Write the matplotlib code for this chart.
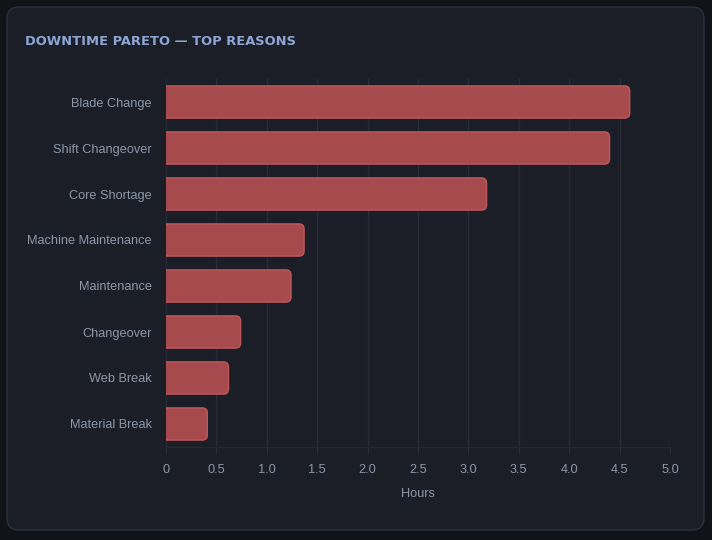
"""Downtime pareto chart, dark card style."""

import matplotlib

matplotlib.use("Agg")
import matplotlib.pyplot as plt
import numpy as np
from matplotlib.patches import FancyBboxPatch

reasons = ["Blade Change", "Shift Changeover", "Core Shortage", "Machine Maintenance",
           "Maintenance", "Changeover", "Web Break", "Material Break"]
hours = [4.6, 4.4, 3.18, 1.37, 1.24, 0.74, 0.62, 0.41]
xticks = [0, 0.5, 1.0, 1.5, 2.0, 2.5, 3.0, 3.5, 4.0, 4.5, 5.0]
xtick_labels = ["0", "0.5", "1.0", "1.5", "2.0", "2.5", "3.0", "3.5", "4.0", "4.5", "5.0"]

BG = "#111318"
CARD = "#1b1e27"
BORDER = "#2c3140"
GRID = "#282c38"
TEXT = "#8d96a8"
BAR = "#a64a4e"
BAR_EDGE = "#bf585c"
FONT = ["Liberation Sans", "DejaVu Sans"]

W, H = 712, 540
fig = plt.figure(figsize=(W / 100, H / 100), dpi=100, facecolor=BG)

# card background
card = FancyBboxPatch((7 / W, 10 / H), 697 / W, 523 / H,
                      boxstyle="round,pad=0,rounding_size=0.017",
                      mutation_aspect=W / H, transform=fig.transFigure,
                      facecolor=CARD, edgecolor=BORDER, linewidth=1.0, zorder=-5)
fig.patches.append(card)

fig.text(25 / W, 1 - 42 / H, "DOWNTIME PARETO — TOP REASONS", color="#8ea6d6",
         fontsize=9.4, fontweight="bold", va="center", ha="left")

ax = fig.add_axes([166 / W, 93 / H, 504 / W, 368 / H])
ax.set_facecolor("none")
ax.set_zorder(2)

y = np.arange(len(reasons))
ax.set_xlim(0, 5.0)
ax.set_ylim(len(reasons) - 0.5, -0.5)

# rounded bars; start a bit left of zero so the left rounding is clipped
x_px = 504 / 5.0
y_px = 368 / len(reasons)
r = 0.05
for yi, v in zip(y, hours):
    p = FancyBboxPatch((-r, yi - 0.35), v + r, 0.7,
                       boxstyle=f"round,pad=0,rounding_size={r}",
                       mutation_aspect=x_px / y_px,
                       facecolor=BAR, edgecolor=BAR_EDGE, linewidth=1.0, zorder=3)
    ax.add_patch(p)

ax.set_yticks(y, reasons, family=FONT)
ax.set_xticks(xticks, xtick_labels, family=FONT)
ax.grid(True, axis="x", color=GRID, linewidth=1.0, zorder=0)
ax.set_axisbelow(True)
for side in ("top", "right", "left"):
    ax.spines[side].set_visible(False)
ax.spines["bottom"].set_color("#232733")
ax.tick_params(axis="y", length=0, pad=10, labelcolor=TEXT, labelsize=9.2)
ax.tick_params(axis="x", length=5, color=GRID, pad=7, labelcolor=TEXT, labelsize=9.2)
ax.set_xlabel("Hours", color=TEXT, fontsize=9.2, labelpad=9, family=FONT)

fig.savefig("out.png", dpi=100, facecolor=BG)
